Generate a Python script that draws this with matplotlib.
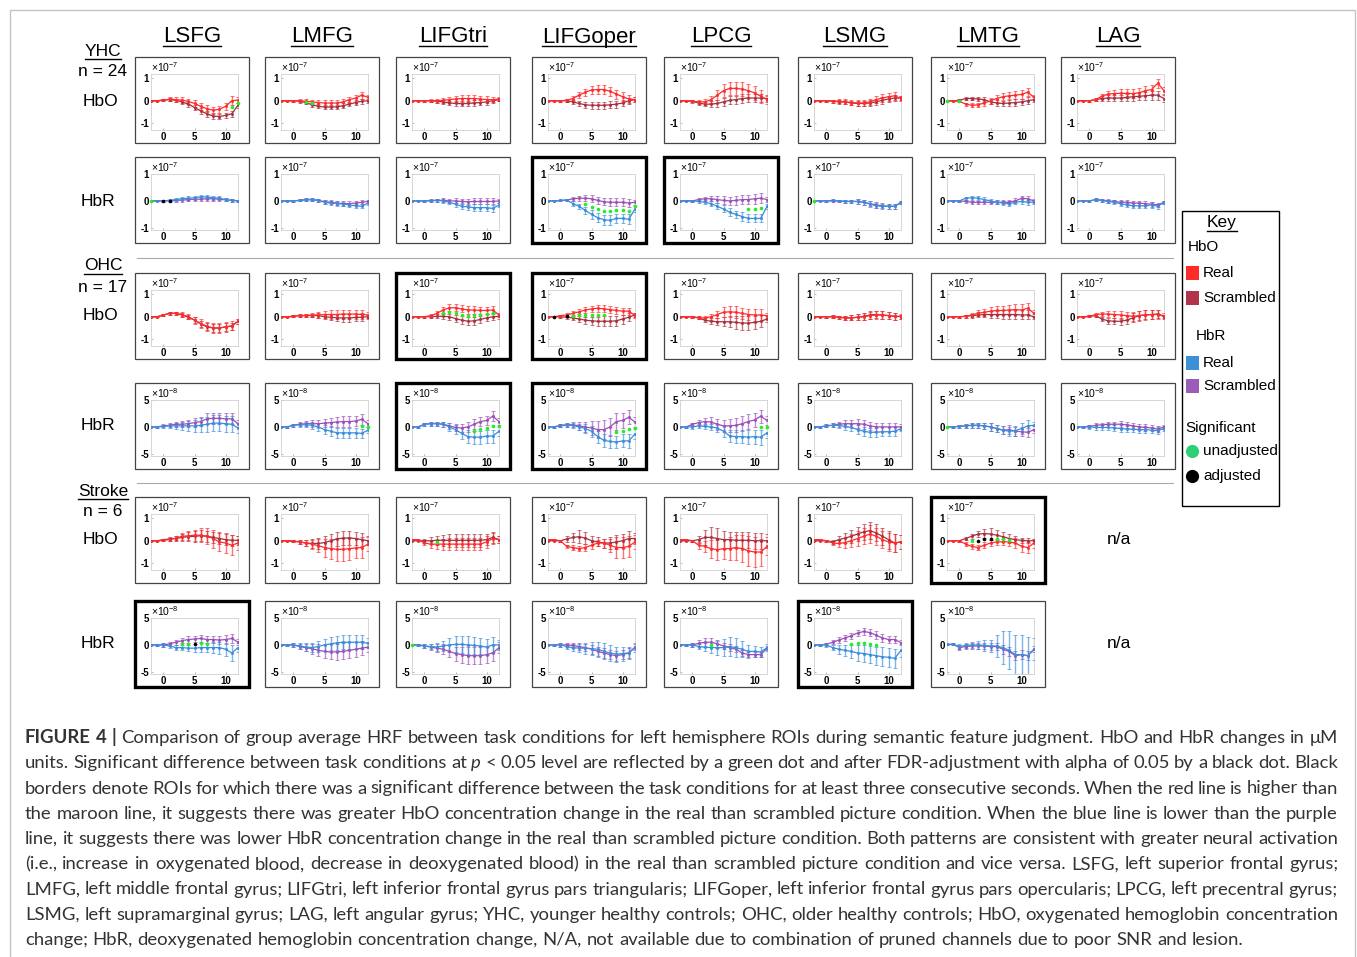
import matplotlib
matplotlib.use("Agg")
import matplotlib.pyplot as plt
from matplotlib.patches import Rectangle
from matplotlib.lines import Line2D
from matplotlib.colors import to_rgba

plt.rcParams["font.family"] = ["Liberation Sans", "DejaVu Sans"]
plt.rcParams["axes.unicode_minus"] = False
plt.rcParams["mathtext.fontset"] = "custom"
plt.rcParams["mathtext.rm"] = "Liberation Sans"

# ---------------- data (HbO / YHC-HbR in units of 1e-7, OHC/Stroke HbR in 1e-8) -------------
time = list(range(-2, 13))
regions = ["LSFG", "LMFG", "LIFGtri", "LIFGoper", "LPCG", "LSMG", "LMTG", "LAG"]

# YHC HbO
yhc_hbo_real = [
    [0, 0, 0.03, 0.07, 0.05, 0.03, -0.03, -0.12, -0.25, -0.35, -0.42, -0.38, -0.25, 0.0, 0.03],
    [0, 0, 0, 0, -0.02, -0.05, -0.08, -0.1, -0.1, -0.1, -0.05, 0.05, 0.12, 0.25, 0.15],
    [0, 0, 0, 0, 0, 0.02, 0.05, 0.08, 0.1, 0.1, 0.1, 0.08, 0.05, 0.05, 0.08],
    [0, 0, 0, 0.02, 0.1, 0.25, 0.38, 0.48, 0.5, 0.5, 0.42, 0.3, 0.18, 0.08, 0.05],
    [0, 0, -0.02, -0.05, -0.05, 0.05, 0.25, 0.45, 0.55, 0.55, 0.52, 0.45, 0.35, 0.2, 0.05],
    [0, 0, 0, -0.02, -0.02, -0.05, -0.08, -0.1, -0.1, -0.05, 0.05, 0.12, 0.18, 0.22, 0.1],
    [0, 0, -0.02, -0.15, -0.2, -0.18, -0.1, 0.0, 0.1, 0.18, 0.22, 0.25, 0.28, 0.38, 0.15],
    [0, 0, 0, 0.05, 0.2, 0.3, 0.32, 0.33, 0.33, 0.32, 0.35, 0.45, 0.5, 0.78, 0.45],
]
yhc_hbo_scr = [
    [0, 0, 0.03, 0.05, 0.02, -0.05, -0.15, -0.3, -0.45, -0.58, -0.68, -0.7, -0.65, -0.58, -0.2],
    [0, 0, 0, -0.02, -0.08, -0.18, -0.25, -0.28, -0.28, -0.27, -0.22, -0.15, -0.08, -0.02, 0.0],
    [0, 0, 0, 0, -0.02, -0.05, -0.1, -0.12, -0.13, -0.12, -0.1, -0.08, -0.05, 0, 0.05],
    [0, 0, 0, 0, -0.05, -0.12, -0.18, -0.2, -0.2, -0.2, -0.18, -0.15, -0.1, 0, 0.05],
    [0, 0, -0.03, -0.1, -0.15, -0.15, -0.12, -0.05, 0.02, 0.05, 0.1, 0.12, 0.12, 0.12, 0.1],
    [0, 0, 0, -0.02, -0.05, -0.05, -0.1, -0.12, -0.12, -0.1, -0.05, 0.02, 0.08, 0.12, 0.12],
    [0, 0, 0.02, 0.1, 0.1, 0.08, 0.05, -0.05, -0.1, -0.12, -0.1, -0.08, -0.05, 0.0, 0.05],
    [0, 0, 0, 0.05, 0.1, 0.12, 0.12, 0.12, 0.15, 0.18, 0.2, 0.22, 0.25, 0.25, 0.1],
]
yhc_hbo_err_real = [
    [.02, .03, .05, .08, .10, .12, .13, .14, .15, .16, .16, .16, .17, .20, .15],
    [.02, .03, .05, .06, .08, .10, .10, .12, .12, .12, .12, .13, .14, .15, .10],
    [.02, .03, .04, .06, .08, .10, .12, .13, .14, .14, .14, .14, .14, .12, .10],
    [.02, .03, .05, .07, .10, .13, .16, .18, .19, .20, .20, .20, .19, .18, .12],
    [.02, .03, .05, .08, .12, .17, .22, .28, .30, .30, .30, .30, .30, .30, .18],
    [.02, .03, .05, .07, .09, .11, .12, .14, .15, .15, .16, .17, .18, .18, .10],
    [.02, .03, .05, .07, .09, .10, .12, .13, .14, .15, .16, .17, .18, .18, .12],
    [.02, .03, .05, .08, .12, .15, .18, .20, .20, .20, .20, .20, .20, .20, .15],
]
yhc_hbo_err_scr = [
    [.02, .03, .05, .07, .08, .10, .11, .12, .12, .12, .12, .12, .12, .12, .12],
    [.02, .03, .05, .06, .07, .08, .09, .10, .10, .10, .10, .10, .11, .12, .10],
    [.02, .03, .04, .05, .07, .09, .10, .11, .12, .12, .12, .12, .12, .10, .08],
    [.02, .03, .05, .07, .09, .12, .14, .15, .15, .15, .15, .15, .14, .14, .12],
    [.02, .03, .05, .07, .10, .13, .16, .18, .18, .18, .18, .18, .18, .17, .15],
    [.02, .03, .05, .06, .08, .10, .11, .12, .13, .14, .15, .15, .15, .15, .10],
    [.02, .03, .05, .07, .08, .09, .10, .11, .12, .13, .14, .14, .15, .15, .10],
    [.02, .03, .05, .07, .10, .12, .14, .15, .16, .17, .18, .19, .20, .20, .15],
]
yhc_hbo_sig = [[11, 12], [2, 3], [], [], [], [], [-2, 0], []]
yhc_hbo_adj = [[], [], [], [], [], [], [], []]
yhc_hbo_border = []

# YHC HbR
yhc_hbr_real = [
    [0, 0, 0, 0.02, 0.05, 0.08, 0.1, 0.12, 0.15, 0.15, 0.12, 0.1, 0.05, 0.02, 0],
    [0, 0, 0, 0.02, 0.05, 0.05, 0.02, -0.05, -0.08, -0.1, -0.12, -0.15, -0.18, -0.2, -0.08],
    [0, 0, 0, 0.02, 0.02, 0, -0.05, -0.12, -0.2, -0.22, -0.25, -0.25, -0.25, -0.28, -0.15],
    [0, 0, 0.02, 0.03, -0.1, -0.2, -0.35, -0.5, -0.62, -0.7, -0.72, -0.65, -0.65, -0.68, -0.3],
    [0, 0, 0, -0.02, -0.05, -0.1, -0.2, -0.3, -0.42, -0.5, -0.58, -0.65, -0.65, -0.65, -0.2],
    [0, 0, 0, 0.02, 0.0, -0.02, -0.02, -0.02, -0.05, -0.12, -0.18, -0.2, -0.2, -0.2, -0.05],
    [0, 0, 0, 0.1, 0.12, 0.1, 0.05, 0, -0.05, -0.08, -0.1, -0.05, -0.02, -0.05, -0.05],
    [0, 0, 0, 0.05, 0.02, -0.02, -0.05, -0.1, -0.15, -0.18, -0.18, -0.18, -0.15, -0.2, -0.05],
]
yhc_hbr_scr = [
    [0, 0, 0, 0, 0.02, 0.03, 0.05, 0.06, 0.07, 0.08, 0.08, 0.06, 0.04, 0.02, 0.0],
    [0, 0, 0, 0.02, 0.04, 0.04, 0.02, -0.03, -0.05, -0.08, -0.1, -0.1, -0.08, -0.05, -0.02],
    [0, 0, 0, 0, 0.02, 0.02, 0, 0, -0.02, -0.03, -0.02, -0.02, -0.02, -0.02, 0],
    [0, 0, 0.02, 0.03, 0.08, 0.1, 0.1, 0.08, 0.02, -0.03, -0.05, -0.05, -0.05, -0.08, -0.05],
    [0, 0, 0, 0.05, 0.08, 0.08, 0.05, 0.02, 0, 0.02, 0.05, 0.05, 0.08, 0.1, 0.05],
    [0, 0, 0, 0, 0, -0.02, -0.02, -0.02, -0.05, -0.1, -0.15, -0.18, -0.2, -0.2, -0.05],
    [0, 0, 0, -0.02, -0.05, -0.05, -0.05, -0.05, -0.05, -0.05, -0.05, 0, 0.1, 0.08, 0],
    [0, 0, 0, 0.05, 0.02, 0, -0.02, -0.05, -0.05, -0.08, -0.08, -0.1, -0.12, -0.15, -0.05],
]
yhc_hbr_err_real = [
    [.01, .02, .03, .04, .05, .06, .07, .08, .08, .08, .08, .08, .07, .06, .05],
    [.01, .02, .03, .04, .05, .05, .06, .07, .07, .08, .08, .08, .08, .08, .06],
    [.01, .02, .03, .04, .05, .06, .08, .10, .11, .12, .12, .12, .12, .12, .08],
    [.01, .02, .03, .05, .08, .10, .13, .16, .18, .18, .18, .18, .18, .18, .12],
    [.01, .02, .03, .05, .07, .09, .11, .13, .14, .14, .15, .15, .15, .15, .10],
    [.01, .02, .03, .04, .05, .06, .07, .08, .09, .10, .10, .10, .10, .10, .06],
    [.01, .02, .03, .05, .07, .08, .08, .08, .08, .08, .08, .08, .10, .10, .06],
    [.01, .02, .03, .04, .05, .06, .07, .08, .09, .10, .10, .10, .10, .10, .06],
]
yhc_hbr_err_scr = [
    [.01, .02, .03, .04, .05, .06, .06, .07, .07, .07, .07, .07, .06, .05, .04],
    [.01, .02, .03, .04, .05, .05, .06, .07, .07, .08, .08, .08, .08, .08, .06],
    [.01, .02, .03, .04, .05, .07, .08, .09, .10, .11, .11, .11, .11, .11, .08],
    [.01, .02, .03, .05, .08, .10, .12, .13, .14, .14, .14, .14, .14, .14, .10],
    [.01, .02, .03, .05, .08, .10, .13, .15, .16, .17, .17, .18, .18, .18, .10],
    [.01, .02, .03, .04, .05, .06, .07, .08, .09, .10, .10, .10, .10, .10, .06],
    [.01, .02, .03, .04, .05, .06, .06, .06, .07, .07, .08, .09, .10, .10, .06],
    [.01, .02, .03, .04, .05, .06, .07, .08, .08, .09, .09, .09, .09, .09, .06],
]
yhc_hbr_sig = [[-2], [], [], [4, 5, 6, 7, 8, 9, 10, 11, 12], [9, 10, 11], [-2], [], []]
yhc_hbr_adj = [[0, 1], [], [], [], [], [], [], []]
yhc_hbr_border = ["LIFGoper", "LPCG"]

# OHC HbO
ohc_hbo_real = [
    [0, 0, 0.08, 0.15, 0.15, 0.1, 0, -0.15, -0.3, -0.42, -0.5, -0.5, -0.45, -0.4, -0.2],
    [0, 0, 0.02, 0.05, 0.05, 0.08, 0.08, 0.1, 0.1, 0.1, 0.12, 0.12, 0.12, 0.1, 0.08],
    [0, 0, 0, 0.05, 0.15, 0.3, 0.4, 0.4, 0.35, 0.3, 0.3, 0.28, 0.28, 0.3, 0.08],
    [0, 0, 0.05, 0.08, 0.15, 0.22, 0.3, 0.35, 0.38, 0.35, 0.32, 0.28, 0.25, 0.25, 0.05],
    [0, 0, 0, -0.05, -0.05, 0, 0.1, 0.2, 0.22, 0.2, 0.15, 0.1, 0.08, 0.08, 0.05],
    [0, 0, 0, 0, -0.02, -0.05, -0.05, -0.02, 0, 0.05, 0.08, 0.08, 0.05, 0.02, 0.02],
    [0, 0, 0, 0.02, 0.08, 0.15, 0.2, 0.25, 0.28, 0.28, 0.3, 0.32, 0.3, 0.38, 0.15],
    [0, 0, 0.02, 0.1, 0.12, 0.12, 0.1, 0.08, 0.05, 0.02, 0.05, 0.08, 0.1, 0.1, 0.05],
]
ohc_hbo_scr = [
    [0, 0, 0.08, 0.15, 0.15, 0.08, -0.02, -0.15, -0.32, -0.45, -0.5, -0.5, -0.45, -0.42, -0.2],
    [0, 0, 0.02, 0.05, 0.05, 0.05, 0.05, 0, -0.02, -0.05, -0.05, -0.05, -0.03, -0.02, 0],
    [0, 0, 0, 0, 0.02, 0.02, 0, -0.08, -0.15, -0.2, -0.18, -0.12, -0.05, 0, 0.02],
    [0, 0, 0, -0.02, -0.05, -0.1, -0.15, -0.18, -0.2, -0.2, -0.2, -0.18, -0.1, -0.02, 0.08],
    [0, 0, 0, -0.05, -0.15, -0.2, -0.22, -0.22, -0.22, -0.25, -0.28, -0.28, -0.25, -0.2, -0.1],
    [0, 0, 0, 0, -0.02, -0.05, -0.05, -0.02, 0.02, 0.08, 0.1, 0.08, 0.05, 0.02, 0.0],
    [0, 0, 0, 0.02, 0.05, 0.08, 0.1, 0.1, 0.1, 0.1, 0.1, 0.1, 0.08, 0.08, 0.0],
    [0, 0, 0.02, 0.05, -0.1, -0.18, -0.2, -0.2, -0.15, -0.05, 0.05, 0.08, 0.1, 0.12, 0.0],
]
ohc_hbo_err_real = [
    [.02, .03, .05, .06, .08, .10, .12, .15, .18, .20, .22, .22, .22, .20, .12],
    [.02, .03, .05, .06, .08, .10, .12, .15, .18, .20, .20, .20, .20, .20, .12],
    [.02, .03, .05, .07, .10, .13, .15, .16, .16, .16, .16, .16, .16, .16, .10],
    [.02, .03, .05, .07, .09, .11, .13, .15, .16, .16, .16, .16, .16, .16, .10],
    [.02, .03, .05, .07, .10, .13, .17, .22, .25, .26, .26, .26, .26, .25, .12],
    [.02, .03, .05, .06, .07, .09, .11, .13, .15, .16, .16, .16, .16, .15, .10],
    [.02, .03, .05, .07, .10, .13, .16, .18, .20, .22, .23, .24, .25, .25, .15],
    [.02, .03, .05, .07, .10, .12, .14, .16, .18, .20, .22, .22, .22, .20, .12],
]
ohc_hbo_err_scr = [
    [.02, .03, .05, .06, .07, .08, .10, .12, .15, .16, .17, .18, .18, .16, .10],
    [.02, .03, .05, .06, .07, .08, .10, .12, .14, .16, .17, .17, .17, .17, .10],
    [.02, .03, .05, .07, .09, .11, .13, .15, .17, .18, .18, .17, .16, .15, .10],
    [.02, .03, .05, .07, .09, .12, .15, .18, .20, .22, .22, .22, .20, .18, .10],
    [.02, .03, .05, .07, .10, .13, .16, .20, .24, .28, .30, .30, .28, .26, .12],
    [.02, .03, .05, .06, .07, .09, .11, .13, .15, .16, .16, .16, .16, .15, .10],
    [.02, .03, .05, .07, .09, .11, .13, .15, .17, .18, .19, .20, .20, .20, .12],
    [.02, .03, .05, .07, .10, .12, .14, .16, .18, .20, .20, .20, .20, .18, .10],
]
ohc_hbo_sig = [[], [], [3, 4, 5, 6, 7, 8, 9, 10, 11], [2, 3, 4, 5, 6, 7], [], [], [], []]
ohc_hbo_adj = [[], [], [], [-1, 1], [], [], [], []]
ohc_hbo_border = ["LIFGtri", "LIFGoper"]

# OHC HbR
ohc_hbr_real = [
    [0, 0, 0.1, 0.2, 0.2, 0.2, 0.2, 0.2, 0.3, 0.5, 0.7, 0.7, 0.6, 0.5, -0.2],
    [0, 0, 0.3, 0.4, 0.4, 0.3, 0, -0.5, -0.8, -1.1, -1.1, -1.1, -1.1, -1.2, -0.6],
    [0, 0, 0.5, 0.6, 0.6, 0.5, 0, -0.5, -1.2, -1.8, -1.9, -1.9, -1.7, -1.7, -0.8],
    [0, 0, 0.2, 0.3, 0.3, 0, -0.3, -0.8, -1.8, -2.5, -2.7, -2.8, -2.6, -2.6, -1.3],
    [0, 0, 0, 0.2, 0.1, 0, -0.2, -0.8, -1.7, -1.8, -1.8, -1.9, -1.8, -1.9, -1.1],
    [0, 0, 0.2, 0.3, 0.3, 0.1, -0.1, -0.5, -0.8, -1.0, -1.0, -0.9, -0.9, -0.8, -0.3],
    [0, 0, 0.1, 0.2, 0.3, 0.3, 0.2, 0, -0.3, -0.6, -0.8, -0.7, -0.3, 0.2, 0.3],
    [0, 0, 0, -0.1, -0.1, -0.1, -0.2, -0.3, -0.4, -0.4, -0.5, -0.5, -0.6, -0.7, -0.3],
]
ohc_hbr_scr = [
    [0, 0, 0.2, 0.3, 0.5, 0.5, 0.6, 0.8, 1.0, 1.5, 1.6, 1.6, 1.5, 1.5, 0.6],
    [0, 0, 0.3, 0.5, 0.6, 0.6, 0.6, 0.7, 0.8, 0.9, 1.0, 1.0, 1.1, 1.4, 0.6],
    [0, 0, 0.5, 0.6, 0.6, 0.5, 0.2, -0.1, -0.2, 0, 0.5, 1.0, 1.2, 2.0, 1.0],
    [0, 0, 0.3, 0.4, 0.4, 0.2, 0, -0.2, -0.5, -0.5, 0, 1.0, 1.2, 1.8, 0.9],
    [0, 0, 0.5, 0.8, 1.0, 0.9, 0.5, 0.2, 0.2, 0.3, 0.6, 1.0, 1.3, 2.0, 1.2],
    [0, 0, 0.2, 0.3, 0.5, 0.6, 0.6, 0.6, 0.5, 0.2, 0.0, 0.0, 0, 0, 0],
    [0, 0, 0.1, 0.2, 0.3, 0.3, 0.2, 0, -0.3, -0.6, -0.5, -0.8, -0.9, -1.0, -0.5],
    [0, 0, 0.1, 0.3, 0.4, 0.5, 0.5, 0.5, 0.4, 0.2, 0, -0.1, -0.2, -0.4, 0],
]
ohc_hbr_err_real = [
    [.1, .2, .3, .4, .5, .7, .9, 1.1, 1.3, 1.4, 1.5, 1.5, 1.5, 1.5, 1.0],
    [.1, .2, .3, .4, .5, .6, .7, .8, .9, .9, .9, .9, .9, .9, .6],
    [.1, .2, .3, .4, .4, .5, .7, .9, 1.1, 1.2, 1.2, 1.2, 1.2, 1.2, .8],
    [.1, .2, .3, .4, .5, .6, .8, 1.0, 1.1, 1.2, 1.2, 1.2, 1.2, 1.3, .9],
    [.1, .2, .3, .4, .5, .6, .8, 1.0, 1.1, 1.2, 1.2, 1.3, 1.3, 1.4, .9],
    [.1, .2, .3, .4, .5, .6, .7, .8, .8, .8, .8, .8, .8, .8, .5],
    [.1, .2, .3, .4, .5, .5, .6, .7, .7, .8, .8, .9, 1.0, 1.0, .7],
    [.1, .2, .3, .4, .4, .5, .5, .6, .6, .6, .6, .6, .6, .6, .4],
]
ohc_hbr_err_scr = [
    [.1, .2, .3, .4, .5, .6, .7, .8, .9, 1.0, 1.0, 1.0, 1.0, 1.0, .7],
    [.1, .2, .3, .4, .5, .6, .7, .8, .9, 1.0, 1.0, 1.0, 1.0, 1.0, .7],
    [.1, .2, .3, .4, .4, .5, .6, .7, .8, .9, .9, .9, .9, .9, .6],
    [.1, .2, .3, .4, .5, .7, 1.0, 1.3, 1.6, 1.7, 1.7, 1.5, 1.4, 1.3, .9],
    [.1, .2, .3, .5, .7, .9, 1.0, 1.1, 1.2, 1.3, 1.4, 1.4, 1.3, 1.2, .8],
    [.1, .2, .3, .4, .5, .6, .7, .8, .8, .8, .8, .8, .8, .8, .5],
    [.1, .2, .3, .4, .5, .5, .6, .7, .7, .8, .8, .8, .8, .8, .6],
    [.1, .2, .3, .4, .4, .5, .5, .6, .6, .6, .6, .6, .6, .6, .4],
]
ohc_hbr_sig = [[], [11, 12], [8, 9, 10, 11, 12], [9, 10, 11, 12], [11, 12], [], [-2], []]
ohc_hbr_adj = [[], [], [], [], [], [], [], []]
ohc_hbr_border = ["LIFGtri", "LIFGoper"]

# Stroke HbO (no LAG)
stroke_hbo_real = [
    [0, 0, 0.02, 0.05, 0.12, 0.2, 0.22, 0.25, 0.25, 0.2, 0.1, -0.05, -0.1, -0.2, -0.1],
    [0, 0, -0.02, -0.05, -0.1, -0.15, -0.22, -0.3, -0.35, -0.38, -0.38, -0.35, -0.32, -0.3, -0.15],
    [0.05, 0.05, -0.1, -0.15, -0.15, -0.15, -0.15, -0.15, -0.15, -0.15, -0.15, -0.15, -0.05, 0.1, 0.05],
    [0.05, 0.05, 0, -0.25, -0.3, -0.35, -0.3, -0.2, -0.1, -0.1, -0.2, -0.3, -0.3, -0.25, -0.05],
    [0.05, 0.05, 0, -0.2, -0.25, -0.35, -0.4, -0.35, -0.35, -0.3, -0.35, -0.45, -0.5, -0.5, -0.25],
    [0.05, 0.05, 0, -0.1, -0.12, -0.08, 0, 0.1, 0.2, 0.3, 0.2, 0.05, -0.05, -0.1, -0.05],
    [0, 0, 0, -0.15, -0.25, -0.3, -0.2, -0.1, -0.05, -0.05, -0.05, -0.1, -0.25, -0.3, -0.1],
]
stroke_hbo_scr = [
    [0, 0, 0.05, 0.08, 0.1, 0.15, 0.18, 0.2, 0.22, 0.2, 0.15, 0.1, 0.05, 0.02, 0.02],
    [0, 0, -0.02, -0.05, -0.1, -0.12, -0.12, -0.08, 0, 0.08, 0.12, 0.12, 0.1, 0.05, 0.0],
    [0, 0, 0, 0, 0.02, 0.02, 0.02, 0.02, 0.02, 0.02, 0.02, 0.02, 0.05, 0.15, 0.05],
    [0, 0, 0, 0.08, 0.15, 0.18, 0.12, 0, -0.05, -0.1, -0.1, -0.05, 0, 0.1, 0.1],
    [0, 0, 0, 0.05, 0.15, 0.15, 0.1, 0.05, 0.05, 0.02, 0.02, 0.02, 0, 0, 0],
    [0, 0, 0, -0.05, 0.05, 0.12, 0.2, 0.3, 0.4, 0.45, 0.35, 0.2, 0.05, -0.1, -0.05],
    [0, 0, 0, 0.1, 0.2, 0.3, 0.32, 0.3, 0.25, 0.18, 0.1, 0.05, 0.02, 0, 0],
]
stroke_hbo_err_real = [
    [.02, .03, .05, .08, .10, .15, .20, .25, .30, .35, .40, .42, .45, .45, .30],
    [.02, .03, .05, .08, .12, .20, .30, .40, .45, .50, .50, .50, .45, .45, .30],
    [.02, .03, .10, .15, .20, .25, .28, .28, .28, .28, .28, .28, .25, .25, .15],
    [.02, .03, .05, .08, .10, .12, .15, .15, .15, .20, .30, .45, .45, .45, .30],
    [.02, .03, .05, .15, .25, .40, .45, .45, .50, .55, .60, .65, .65, .60, .40],
    [.02, .03, .05, .10, .15, .22, .28, .32, .35, .38, .38, .38, .40, .40, .30],
    [.02, .03, .05, .08, .10, .12, .14, .15, .15, .15, .18, .22, .25, .25, .20],
]
stroke_hbo_err_scr = [
    [.02, .03, .05, .08, .10, .15, .20, .25, .25, .25, .25, .25, .25, .25, .20],
    [.02, .03, .05, .08, .12, .18, .25, .30, .32, .33, .33, .32, .30, .28, .20],
    [.02, .03, .10, .15, .20, .25, .28, .28, .28, .28, .28, .28, .25, .25, .15],
    [.02, .03, .05, .12, .20, .30, .25, .20, .20, .20, .25, .30, .30, .35, .25],
    [.02, .03, .05, .15, .35, .45, .45, .40, .35, .35, .35, .35, .35, .35, .30],
    [.02, .03, .05, .10, .15, .22, .28, .32, .35, .38, .38, .38, .40, .40, .30],
    [.02, .03, .05, .08, .10, .15, .20, .25, .22, .20, .18, .15, .12, .12, .10],
]
stroke_hbo_sig = [[], [], [2], [], [], [], [2, 6, 7, 8]]
stroke_hbo_adj = [[], [], [], [], [], [], [3, 4, 5]]
stroke_hbo_border = ["LMTG"]

# Stroke HbR (no LAG)
stroke_hbr_real = [
    [0, 0, 0, -0.2, -0.5, -0.5, -0.6, -0.6, -0.5, -0.5, -0.5, -0.5, -0.8, -1.5, -0.5],
    [0, 0, 0, -0.2, -0.4, -0.5, -0.3, 0, 0.2, 0.4, 0.5, 0.5, 0.5, 0.5, 0.3],
    [0, 0, -0.2, -0.3, -0.4, -0.2, 0, 0.1, 0.1, 0, -0.1, -0.2, -0.4, 0, 0],
    [0, 0, 0, -0.3, -0.5, -0.6, -0.6, -0.7, -0.8, -1.2, -1.5, -1.7, -1.6, -1.5, -0.5],
    [0, 0, 0, -0.3, -0.4, -0.5, -0.5, -0.5, -0.3, -0.5, -0.8, -1.2, -1.2, -1.3, -0.5],
    [0, 0, 0, -0.5, -0.8, -1.0, -1.2, -1.5, -1.6, -1.8, -2.0, -2.2, -2.3, -2.5, -1.0],
    [0.1, 0.1, -0.3, -0.1, 0, 0, -0.1, -0.2, -0.2, -0.5, -1.0, -1.8, -1.8, -2.0, -0.8],
]
stroke_hbr_scr = [
    [0, 0, 0, 0.2, 0.5, 0.8, 1.0, 1.1, 1.2, 1.0, 1.0, 0.9, 1.0, 1.2, 0.5],
    [0, 0, 0, -0.3, -0.5, -0.7, -1.0, -1.2, -1.3, -1.3, -1.2, -1.0, -0.8, -0.6, -0.4],
    [0, 0, -0.2, -0.4, -0.6, -0.8, -1.2, -1.6, -1.8, -2.0, -2.0, -2.0, -1.8, -1.5, -0.5],
    [0, 0, 0, 0, -0.1, -0.3, -0.5, -0.8, -1.2, -1.5, -1.8, -2.0, -1.8, -1.5, -0.4],
    [0, 0, 0, 0.3, 0.5, 0.5, 0.2, -0.2, -0.5, -0.8, -1.5, -1.8, -1.8, -1.8, -0.6],
    [0, 0, 0.1, 0.5, 0.9, 1.3, 1.7, 2.2, 2.5, 2.3, 1.8, 1.3, 1.0, 1.0, 0.4],
    [0.1, 0.1, -0.5, -0.3, -0.2, -0.2, -0.2, -0.3, -0.3, -0.8, -1.2, -2.0, -1.8, -2.0, -0.8],
]
stroke_hbr_err_real = [
    [.1, .2, .3, .4, .5, .5, .6, .7, .8, .9, 1.0, 1.1, 1.2, 1.4, .9],
    [.1, .2, .3, .5, .7, .9, 1.0, 1.1, 1.2, 1.3, 1.3, 1.3, 1.3, 1.3, .9],
    [.1, .2, .3, .5, .8, 1.0, 1.3, 1.5, 1.6, 1.6, 1.6, 1.5, 1.5, 1.4, 1.0],
    [.1, .2, .3, .4, .6, .8, 1.0, 1.2, 1.4, 1.5, 1.5, 1.4, 1.3, 1.2, .8],
    [.1, .2, .3, .5, .7, 1.0, 1.3, 1.6, 1.8, 1.8, 1.5, 1.2, 1.0, 1.0, .6],
    [.1, .2, .3, .5, .8, 1.0, 1.2, 1.4, 1.5, 1.6, 1.7, 1.8, 1.8, 1.8, 1.2],
    [.1, .2, .5, .5, .6, .8, 1.0, 1.2, 2.0, 3.0, 3.5, 3.7, 3.7, 3.5, 2.0],
]
stroke_hbr_err_scr = [
    [.1, .2, .3, .4, .5, .5, .6, .6, .7, .7, .7, .7, .8, .8, .6],
    [.1, .2, .3, .5, .7, .9, 1.1, 1.3, 1.4, 1.5, 1.5, 1.5, 1.4, 1.3, .9],
    [.1, .2, .3, .5, .7, .9, 1.1, 1.3, 1.5, 1.6, 1.6, 1.6, 1.5, 1.4, 1.0],
    [.1, .2, .3, .4, .5, .6, .7, .8, .9, .9, .9, .9, .9, .9, .6],
    [.1, .2, .3, .6, .8, .8, .7, .6, .6, .6, .5, .5, .5, .5, .4],
    [.1, .2, .3, .4, .5, .5, .6, .6, .7, .7, .7, .7, .7, .7, .5],
    [.1, .2, .5, .5, .6, .6, .6, .6, .7, .8, .8, .8, .8, .8, .6],
]
stroke_hbr_sig = [[3, 4, 6, 7], [], [-2], [], [3], [4, 5, 6, 7, 8], []]
stroke_hbr_adj = [[5], [], [], [], [], [], []]
stroke_hbr_border = ["LSFG", "LSMG"]

group_labels = ["YHC", "OHC", "Stroke"]
group_sizes = ["n = 24", "n = 17", "n = 6"]
caption_lines = [
    [("FIGURE 4 |", "bold"), ("Comparison of group average HRF between task conditions for left hemisphere ROIs during semantic feature judgment. HbO and HbR changes in \u03bcM", "normal")],
    [("units. Significant difference between task conditions at", "normal"), ("p", "italic"), ("< 0.05 level are reflected by a green dot and after FDR-adjustment with alpha of 0.05 by a black dot. Black", "normal")],
    [("borders denote ROIs for which there was a significant difference between the task conditions for at least three consecutive seconds. When the red line is higher than", "normal")],
    [("the maroon line, it suggests there was greater HbO concentration change in the real than scrambled picture condition. When the blue line is lower than the purple", "normal")],
    [("line, it suggests there was lower HbR concentration change in the real than scrambled picture condition. Both patterns are consistent with greater neural activation", "normal")],
    [("(i.e., increase in oxygenated blood, decrease in deoxygenated blood) in the real than scrambled picture condition and vice versa. LSFG, left superior frontal gyrus;", "normal")],
    [("LMFG, left middle frontal gyrus; LIFGtri, left inferior frontal gyrus pars triangularis; LIFGoper, left inferior frontal gyrus pars opercularis; LPCG, left precentral gyrus;", "normal")],
    [("LSMG, left supramarginal gyrus; LAG, left angular gyrus; YHC, younger healthy controls; OHC, older healthy controls; HbO, oxygenated hemoglobin concentration", "normal")],
    [("change; HbR, deoxygenated hemoglobin concentration change, N/A, not available due to combination of pruned channels due to poor SNR and lesion.", "normal")],
]

# ---------------- figure ----------------
W, H = 1357, 957
fig = plt.figure(figsize=(W / 100, H / 100), dpi=100)
fig.patch.set_facecolor("white")
renderer = fig.canvas.get_renderer()


def fx(x):
    return x / W


def fy(y):
    return 1 - y / H


RED, MAROON = "#ff2b2b", "#a8303e"
BLUE, PURPLE = "#3a8ddb", "#9b50b6"
STY = {
    "hbo7": dict(c_real=RED, c_scr=MAROON, ylim=(-1.3, 1.19), ticks=[-1, 0, 1], exp="-7"),
    "hbr7": dict(c_real=BLUE, c_scr=PURPLE, ylim=(-1.08, 1.0), ticks=[-1, 0, 1], exp="-7"),
    "hbr8": dict(c_real=BLUE, c_scr=PURPLE, ylim=(-5.4, 5.0), ticks=[-5, 0, 5], exp="-8"),
}
rows = [
    ("hbo7", yhc_hbo_real, yhc_hbo_scr, yhc_hbo_err_real, yhc_hbo_err_scr, yhc_hbo_sig, yhc_hbo_adj, yhc_hbo_border),
    ("hbr7", yhc_hbr_real, yhc_hbr_scr, yhc_hbr_err_real, yhc_hbr_err_scr, yhc_hbr_sig, yhc_hbr_adj, yhc_hbr_border),
    ("hbo7", ohc_hbo_real, ohc_hbo_scr, ohc_hbo_err_real, ohc_hbo_err_scr, ohc_hbo_sig, ohc_hbo_adj, ohc_hbo_border),
    ("hbr8", ohc_hbr_real, ohc_hbr_scr, ohc_hbr_err_real, ohc_hbr_err_scr, ohc_hbr_sig, ohc_hbr_adj, ohc_hbr_border),
    ("hbo7", stroke_hbo_real, stroke_hbo_scr, stroke_hbo_err_real, stroke_hbo_err_scr, stroke_hbo_sig, stroke_hbo_adj, stroke_hbo_border),
    ("hbr8", stroke_hbr_real, stroke_hbr_scr, stroke_hbr_err_real, stroke_hbr_err_scr, stroke_hbr_sig, stroke_hbr_adj, stroke_hbr_border),
]
col_left = [135, 265, 396, 532, 664, 798, 931, 1061]
row_top = [57, 157, 273, 383, 497, 601]
PW, PH = 114, 86


def draw_series(ax, vals, errs, color):
    ax.errorbar(time, vals, yerr=errs, fmt="-", color=color, lw=0.9,
                ecolor=to_rgba(color, 0.65), elinewidth=1.0, capsize=1.3, capthick=0.7,
                marker=".", ms=2.2, zorder=3)


for r, (kind, real, scr, er, es, sig, adj, border) in enumerate(rows):
    st = STY[kind]
    for c in range(len(real)):
        l, t = col_left[c], row_top[r]
        ax = fig.add_axes([fx(l + 16), fy(t + 73), 87 / W, 56 / H])
        draw_series(ax, scr[c], es[c], st["c_scr"])
        draw_series(ax, real[c], er[c], st["c_real"])
        for group, col in ((sig[c], "#1ff01f"), (adj[c], "black")):
            if group:
                xs = list(group)
                ys = [(real[c][time.index(tt)] + scr[c][time.index(tt)]) / 2 for tt in xs]
                ax.plot(xs, ys, "o", ms=2.6, color=col, mec="none", zorder=6, clip_on=False)
        ax.set_xlim(-2, 12)
        ax.set_ylim(*st["ylim"])
        ax.set_xticks([0, 5, 10])
        ax.set_xticklabels(["0", "5", "10"], fontsize=7, fontweight="bold")
        ax.set_yticks(st["ticks"])
        ax.set_yticklabels([str(v) for v in st["ticks"]], fontsize=7, fontweight="bold")
        ax.tick_params(length=1.5, width=0.5, pad=1.5, direction="in", colors="#999999",
                       labelcolor="black")
        for sp in ax.spines.values():
            sp.set_color("#d0d0d0")
            sp.set_linewidth(0.6)
        ax.text(0.0, 1.0, r"$\times\mathregular{10^{%s}}$" % st["exp"], transform=ax.transAxes,
                fontsize=7.5, ha="left", va="bottom")
        thick = regions[c] in border
        fig.add_artist(Rectangle((fx(l), fy(t + PH)), PW / W, PH / H, transform=fig.transFigure,
                                 fill=False, lw=2.4 if thick else 0.9,
                                 ec="black" if thick else "#444444", zorder=10))


def underlined(x, y_base, s, fs, gap):
    tx = fig.text(fx(x), fy(y_base), s, fontsize=fs, ha="center", va="baseline")
    bb = tx.get_window_extent(renderer)
    yl = fy(y_base + gap)
    fig.add_artist(Line2D([bb.x0 / W, bb.x1 / W], [yl, yl], transform=fig.transFigure,
                          color="black", lw=1.0))


# column headers
for c, name in enumerate(regions):
    underlined(col_left[c] + PW / 2, 42.5, name, 16, 3.5)

# row labels
label_y = [(50, 72, 101), (265, 287, 316), (490, 512, 540)]
for g, (ya, yb, yc) in enumerate(label_y):
    underlined(103, ya + 5.5, group_labels[g], 12.5, 3)
    fig.text(fx(103), fy(yb), group_sizes[g], fontsize=12.5, ha="center", va="center")
    fig.text(fx(100), fy(yc), "HbO", fontsize=12.5, ha="center", va="center")
for y in (201, 426, 644):
    fig.text(fx(98), fy(y), "HbR", fontsize=12.5, ha="center", va="center")
for y in (540, 644):
    fig.text(fx(1119), fy(y), "n/a", fontsize=12.5, ha="center", va="center")

# separators
for y in (258, 483):
    fig.add_artist(Line2D([fx(137), fx(1173)], [fy(y), fy(y)], transform=fig.transFigure,
                          color="#aaaaaa", lw=0.8))

# key
fig.add_artist(Rectangle((fx(1182), fy(506)), 97 / W, 295 / H, transform=fig.transFigure,
                         fill=False, lw=1.0, ec="black"))
underlined(1222, 227.5, "Key", 12.5, 3)
fig.text(fx(1188), fy(247), "HbO", fontsize=11, ha="left", va="center")
fig.text(fx(1196), fy(336), "HbR", fontsize=11, ha="left", va="center")
fig.text(fx(1185), fy(428), "Significant", fontsize=11, ha="left", va="center")
for y, col, lab in ((273, "#ff2a2a", "Real"), (298, "#b0344a", "Scrambled"),
                    (363, "#3d8fd6", "Real"), (386, "#9d5bb8", "Scrambled")):
    fig.add_artist(Rectangle((fx(1186), fy(y + 7)), 13 / W, 14 / H, transform=fig.transFigure,
                             color=col, lw=0))
    fig.text(fx(1203), fy(y), lab, fontsize=11, ha="left", va="center")
for y, col, lab in ((451, "#2fcf78", "unadjusted"), (476, "black", "adjusted")):
    fig.add_artist(Line2D([fx(1192)], [fy(y)], marker="o", ms=9.5, color=col, mec="none",
                          transform=fig.transFigure))
    fig.text(fx(1203), fy(y), lab, fontsize=11, ha="left", va="center")

# outer border
fig.add_artist(Rectangle((fx(10), fy(990)), 1345 / W, 980 / H, transform=fig.transFigure,
                         fill=False, lw=1.0, ec="#c4c4c4"))

# caption (justified)
CAP_FONT = ["Lato", "DejaVu Sans"]
CAP_COLOR = "#333333"
X0, X1 = 25, 1338


def word_list(segs):
    out = []
    for txt, style in segs:
        for w in txt.split(" "):
            if w:
                out.append((w, style))
    return out


def make_word(w, style, fs):
    kw = dict(fontsize=fs, color=CAP_COLOR, family=CAP_FONT, va="baseline", ha="left")
    if style == "bold":
        kw["fontweight"] = "bold"
    if style == "italic":
        kw["fontstyle"] = "italic"
    return fig.text(0, 0, w, **kw)


probe = fig.text(0, 0, " ".join(w for w, _ in word_list(caption_lines[-1])), fontsize=12,
                 family=CAP_FONT)
natural = probe.get_window_extent(renderer).width
probe.remove()
cap_fs = 12 * 1213 / natural
sp_probe = fig.text(0, 0, "a a", fontsize=cap_fs, family=CAP_FONT)
aa_probe = fig.text(0, 0, "aa", fontsize=cap_fs, family=CAP_FONT)
space_w = sp_probe.get_window_extent(renderer).width - aa_probe.get_window_extent(renderer).width
sp_probe.remove()
aa_probe.remove()

for i, segs in enumerate(caption_lines):
    y_base = 743 + i * 25.25
    words = word_list(segs)
    arts = [make_word(w, s, cap_fs) for w, s in words]
    widths = [a.get_window_extent(renderer).width for a in arts]
    last = i == len(caption_lines) - 1
    gap = space_w if last else (X1 - X0 - sum(widths)) / (len(words) - 1)
    x = X0
    for a, wd in zip(arts, widths):
        a.set_position((fx(x), fy(y_base)))
        x += wd + gap

fig.savefig("out.png", dpi=100, facecolor="white")
